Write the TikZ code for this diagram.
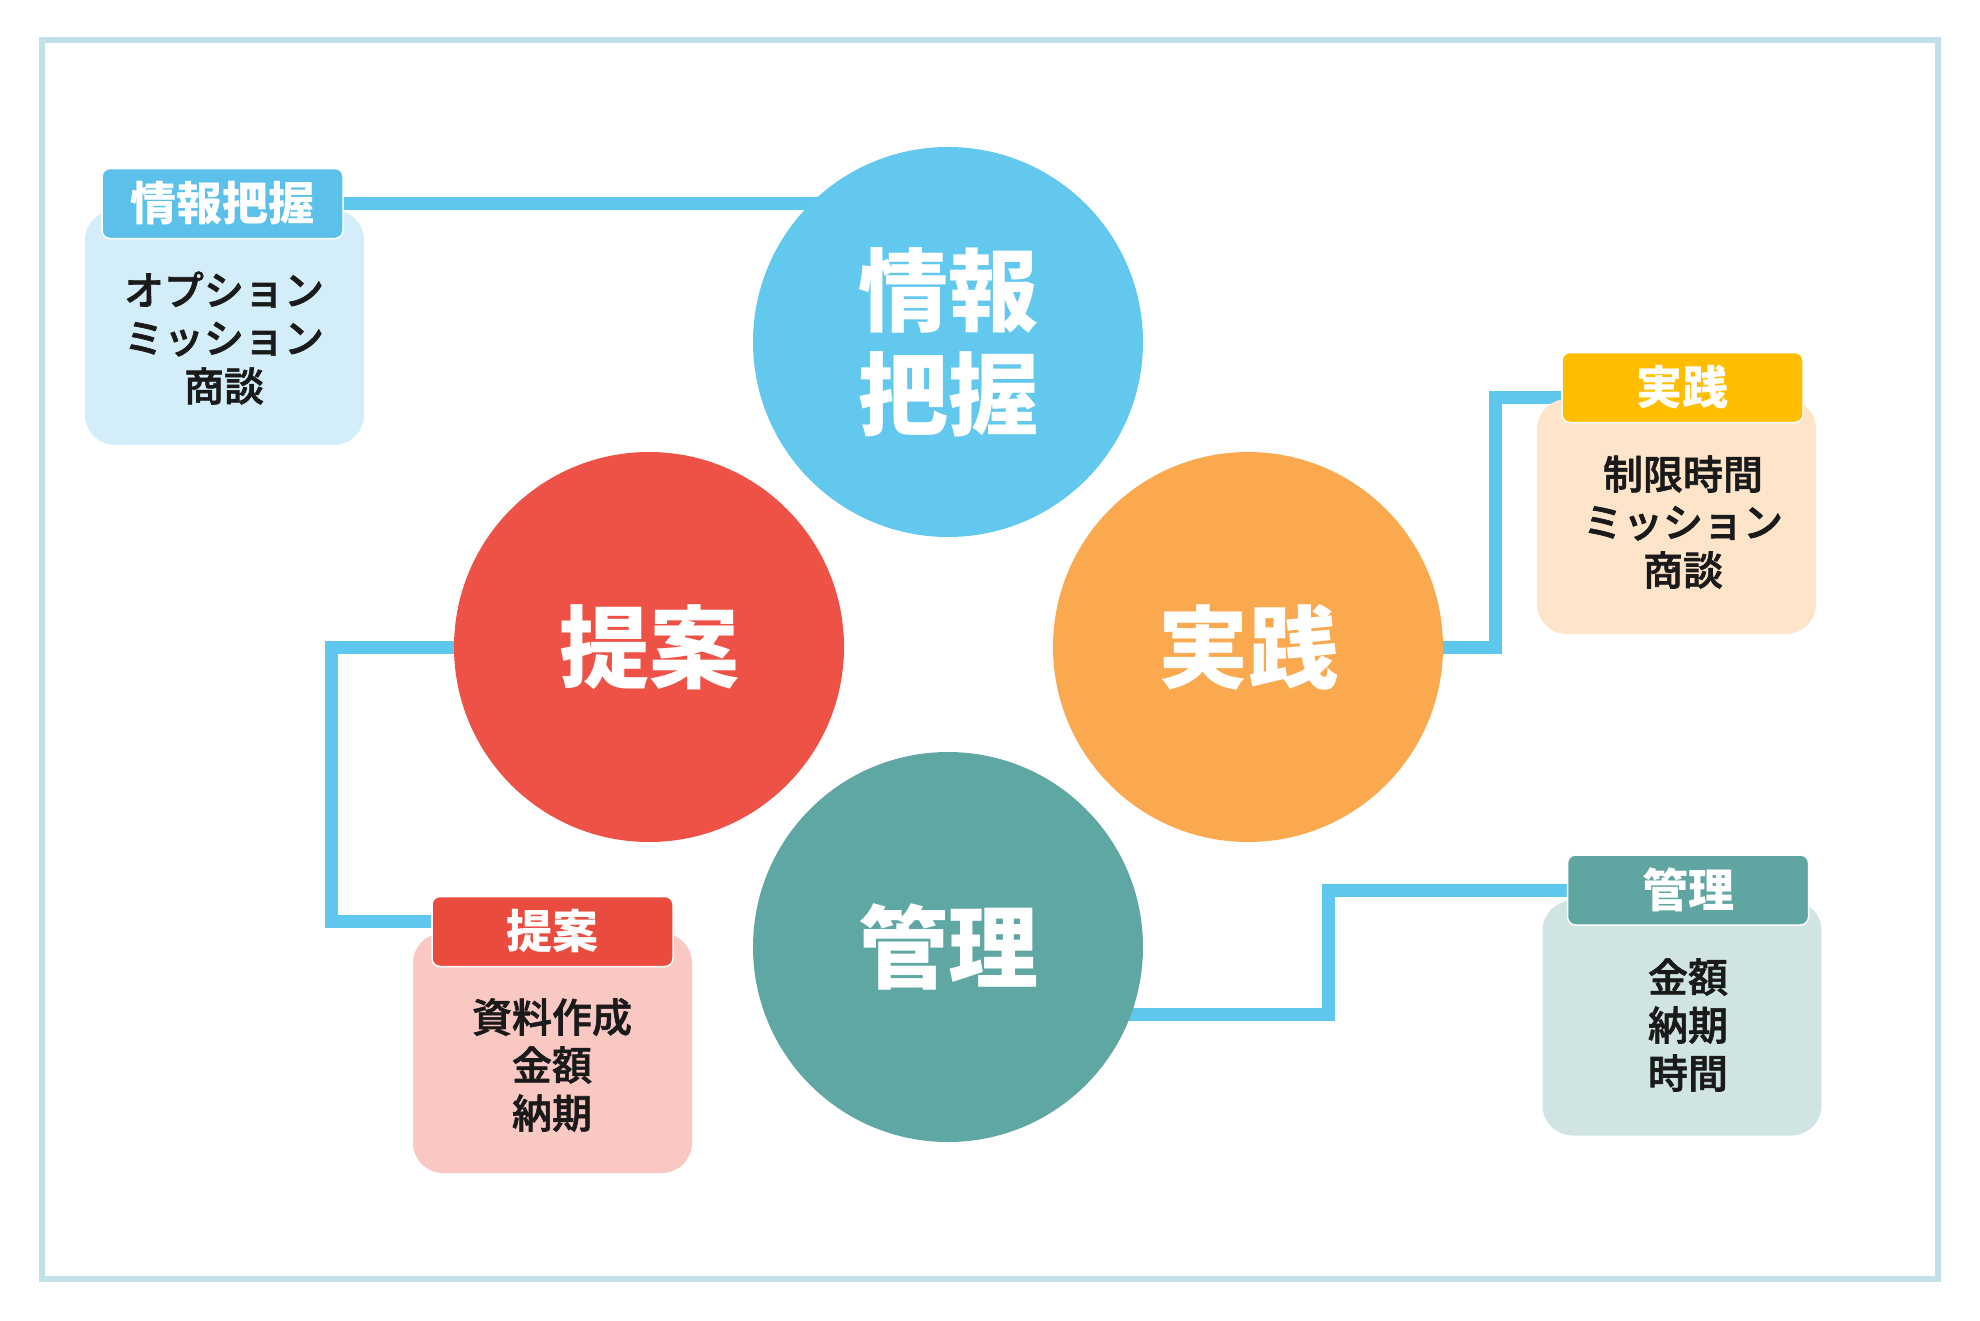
\documentclass[tikz,border=0pt]{standalone}
\usepackage{fontspec}
\setmainfont{Noto Sans CJK JP}
\newfontfamily\notefont[FakeBold=1.6]{Noto Sans CJK JP Medium}
\pgfdeclarelayer{bg}
\pgfsetlayers{bg,main}
\definecolor{skyc}{HTML}{62C8EE}
\definecolor{skyhead}{HTML}{5BC1EA}
\definecolor{skybody}{HTML}{D3EEF9}
\definecolor{redc}{HTML}{EE5145}
\definecolor{redhead}{HTML}{E94B3E}
\definecolor{redbody}{HTML}{F9C8C3}
\definecolor{orangec}{HTML}{FBA94F}
\definecolor{orangehead}{HTML}{FFBD00}
\definecolor{orangebody}{HTML}{FEE4C9}
\definecolor{tealc}{HTML}{5FA7A3}
\definecolor{tealhead}{HTML}{5FA6A2}
\definecolor{tealbody}{HTML}{D0E5E3}
\definecolor{linkc}{HTML}{5DC7EE}
\definecolor{framec}{HTML}{C0E1E8}
\definecolor{ink}{HTML}{1A1A1A}
\begin{document}
\begin{tikzpicture}[x=1pt,y=-1pt,
  big/.style={circle,minimum size=390pt,inner sep=0pt,text=white,align=center,font=\fontsize{90}{104}\selectfont\bfseries},
  head/.style={rectangle,rounded corners=8pt,draw=white,line width=1.5pt,minimum width=241pt,minimum height=70pt,inner sep=0pt,text=white,font=\fontsize{46}{50}\selectfont\bfseries},
  body/.style={rectangle,rounded corners=30pt,minimum width=279pt,minimum height=235pt,inner sep=0pt},
  note/.style={align=center,text=ink,font=\fontsize{40}{48}\selectfont\notefont},
  link/.style={draw=linkc,line width=13pt}]
\useasboundingbox (0,0) rectangle (1980,1320);
\draw[framec,line width=6pt] (42,40) rectangle (1938,1279);

\node[big,fill=skyc] (info) at (948,342) {情報\\把握};
\node[big,fill=redc] (prop) at (649,647) {提案};
\node[big,fill=orangec] (prac) at (1248,647) {実践};
\node[big,fill=tealc] (mgmt) at (948,947) {管理};

\node[body,fill=skybody] (infobox) at (224.5,327.5) {};
\node[head,fill=skyhead] (infohead) at (222.5,203.5) {情報把握};
\node[note] (infotxt) at (224,338) {オプション\\ミッション\\商談};

\node[body,fill=orangebody] (pracbox) at (1676.5,516.5) {};
\node[head,fill=orangehead] (prachead) at (1682.5,387.5) {実践};
\node[note] (practxt) at (1683,522) {制限時間\\ミッション\\商談};

\node[body,fill=redbody,minimum height=240pt] (propbox) at (552.5,1053) {};
\node[head,fill=redhead] (prophead) at (552.5,931.5) {提案};
\node[note] (proptxt) at (552,1065) {資料作成\\金額\\納期};

\node[body,fill=tealbody] (mgmtbox) at (1682,1018) {};
\node[head,fill=tealhead] (mgmthead) at (1688,890) {管理};
\node[note] (mgmttxt) at (1688,1025) {金額\\納期\\時間};

\begin{pgfonlayer}{bg}
\draw[link] (infohead.east) -- (infohead.east -| info.center);
\draw[link] (prac.center) -- ++(247,0) |- ([yshift=-10pt]prachead.west);
\draw[link] (prop.center) -- ++(-318,0) |- ([yshift=10pt]prophead.west);
\draw[link] (mgmt.center) ++(0,67) -- ++(380,0) |- (mgmthead.west);
\end{pgfonlayer}
\end{tikzpicture}
\end{document}
